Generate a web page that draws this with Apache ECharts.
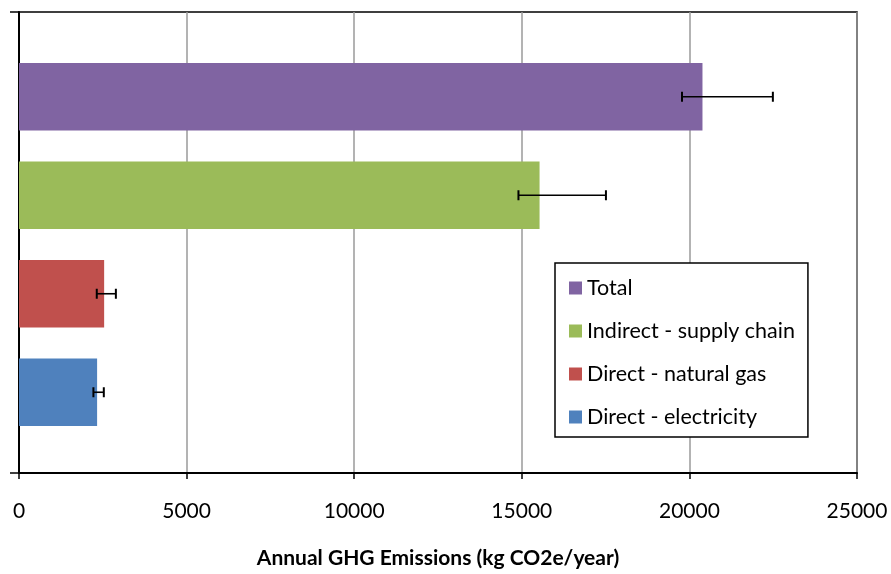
<!DOCTYPE html>
<html>
<head>
<meta charset="utf-8">
<script src="https://cdn.jsdelivr.net/npm/echarts@6/dist/echarts.min.js"></script>
<style>html,body{margin:0;padding:0;background:#fff}#c{width:891px;height:574px}</style>
</head>
<body>
<div id="c"></div>
<script>
const categories = ['Total', 'Indirect - supply chain', 'Direct - natural gas', 'Direct - electricity'];
const values = [20390, 15530, 2540, 2330];
const errLow = [19780, 14900, 2320, 2220];
const errHigh = [22490, 17510, 2890, 2530];
const colors = ['#8064A2', '#9BBB59', '#C0504D', '#4F81BD'];
const xMin = 0, xMax = 25000, xStep = 5000;
const axisTitle = 'Annual GHG Emissions (kg CO2e/year)';

const FONT = 'Lato';
const chart = echarts.init(document.getElementById('c'));

const barSeries = categories.map((name, i) => ({
  name: name,
  type: 'bar',
  stack: 'all',
  xAxisIndex: 1,
  yAxisIndex: 1,
  barCategoryGap: '31.6%',
  itemStyle: { color: colors[i] },
  data: categories.map((c, j) => (j === i ? values[i] : '-')),
  z: 3
}));

const errSeries = {
  type: 'custom',
  xAxisIndex: 1,
  yAxisIndex: 1,
  z: 10,
  silent: true,
  data: categories.map((c, i) => [errLow[i], errHigh[i], i]),
  encode: { x: [0, 1], y: 2 },
  renderItem: function (params, api) {
    const y = api.value(2);
    const p1 = api.coord([api.value(0), y]);
    const p2 = api.coord([api.value(1), y]);
    const h = 5;
    const st = { stroke: '#000', lineWidth: 1.6 };
    return {
      type: 'group',
      children: [
        { type: 'line', shape: { x1: p1[0], y1: p1[1], x2: p2[0], y2: p2[1] }, style: st },
        { type: 'line', shape: { x1: p1[0], y1: p1[1] - h, x2: p1[0], y2: p1[1] + h }, style: { stroke: '#000', lineWidth: 2 } },
        { type: 'line', shape: { x1: p2[0], y1: p2[1] - h, x2: p2[0], y2: p2[1] + h }, style: { stroke: '#000', lineWidth: 2 } }
      ]
    };
  }
};

chart.setOption({
  animation: false,
  backgroundColor: '#fff',
  textStyle: { fontFamily: FONT },
  grid: [
    { left: 19, right: 34, top: 12, bottom: 97, show: true, borderColor: '#000', borderWidth: 1.5, backgroundColor: 'transparent' },
    { left: 19, right: 34, top: 47.5, bottom: 132.5 }
  ],
  xAxis: [
    {
      gridIndex: 0, type: 'value', min: xMin, max: xMax, interval: xStep,
      axisLine: { show: true, lineStyle: { color: '#000', width: 2 } },
      axisTick: { show: true, length: 6, lineStyle: { color: '#000', width: 1.5 } },
      splitLine: { show: true, lineStyle: { color: '#9a9a9a', width: 1.5 } },
      axisLabel: { margin: 28, fontSize: 21, color: '#000', fontFamily: FONT, formatter: v => String(v) },
      name: axisTitle, nameLocation: 'middle', nameGap: 75,
      nameTextStyle: { fontSize: 21, fontWeight: 'bold', color: '#000', fontFamily: FONT }
    },
    { gridIndex: 1, type: 'value', min: xMin, max: xMax, show: false }
  ],
  yAxis: [
    {
      gridIndex: 0, type: 'value', min: 0, max: 1, interval: 1,
      axisLine: { show: true, lineStyle: { color: '#000', width: 2 } },
      axisTick: { show: true, length: 9, lineStyle: { color: '#000', width: 1.5 } },
      axisLabel: { show: false },
      splitLine: { show: false }
    },
    { gridIndex: 1, type: 'category', data: categories, inverse: true, show: false }
  ],
  legend: {
    data: categories,
    orient: 'vertical',
    left: 555, top: 263,
    padding: [14, 13, 9, 14],
    borderColor: '#000', borderWidth: 1.5,
    backgroundColor: '#fff',
    itemWidth: 13, itemHeight: 13, itemGap: 21,
    icon: 'rect',
    selectedMode: false,
    textStyle: { fontSize: 21.5, lineHeight: 22, color: '#000', fontFamily: FONT }
  },
  series: barSeries.concat([errSeries])
});
</script>
</body>
</html>
